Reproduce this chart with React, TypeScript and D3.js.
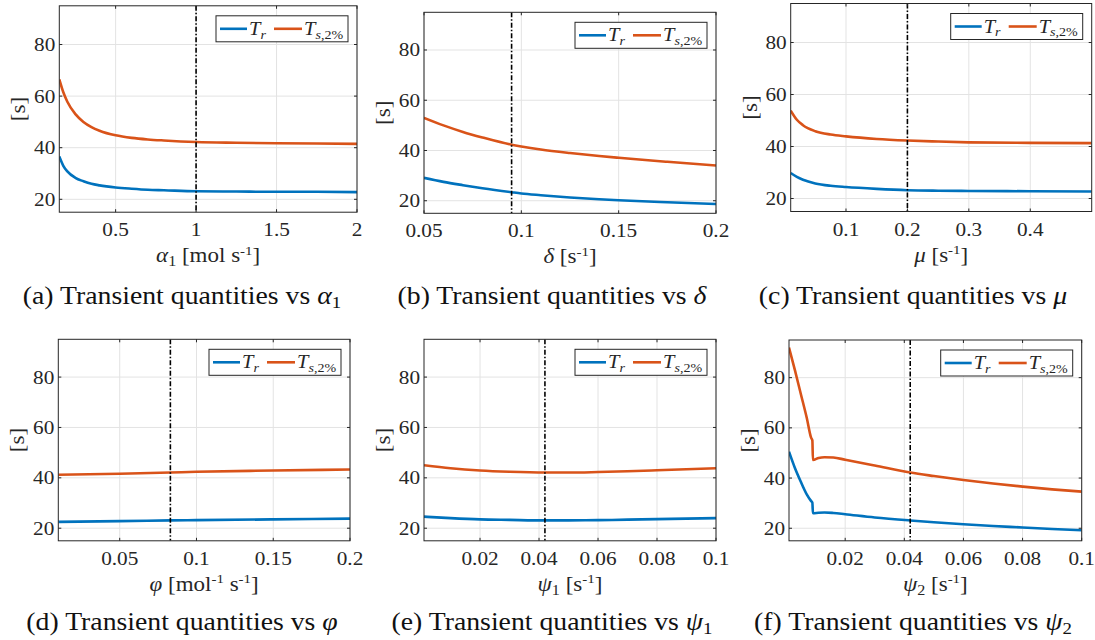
import React from 'react'
import * as d3 from 'd3'

// ---- data ----
const alphaX = [0.15, 0.175, 0.2, 0.25, 0.3, 0.35, 0.4, 0.5, 0.6, 0.7, 0.8, 1.0, 1.25, 1.5, 1.75, 2.0]
const alphaTs = [66.5, 61.5, 57.8, 53, 50, 48, 46.6, 44.8, 43.8, 43.2, 42.8, 42.2, 41.9, 41.7, 41.6, 41.5]
const alphaTr = [36.6, 33, 30.8, 28.3, 27, 26, 25.4, 24.6, 24.1, 23.7, 23.5, 23.1, 23.0, 22.9, 22.9, 22.8]

const deltaX = [0.05, 0.06, 0.07, 0.08, 0.095, 0.1, 0.11, 0.125, 0.14, 0.15, 0.175, 0.2]
const deltaTs = [53, 50, 47.4, 45.2, 42.3, 41.6, 40.4, 39, 37.8, 37.1, 35.5, 34]
const deltaTr = [29.1, 27.5, 26.2, 25.0, 23.4, 22.9, 22.2, 21.3, 20.6, 20.2, 19.4, 18.7]

const muX = [0.01, 0.02, 0.03, 0.05, 0.075, 0.1, 0.15, 0.2, 0.25, 0.3, 0.4, 0.5]
const muTs = [53.8, 50.3, 48.2, 45.9, 44.6, 43.9, 42.9, 42.3, 41.9, 41.6, 41.4, 41.3]
const muTr = [29.8, 28.3, 27.2, 25.8, 24.9, 24.4, 23.7, 23.2, 23.0, 22.9, 22.8, 22.7]

const phiX = [0.01, 0.05, 0.083, 0.1, 0.15, 0.2]
const phiTs = [41.2, 41.6, 42.1, 42.4, 42.9, 43.3]
const phiTr = [22.5, 22.8, 23.1, 23.2, 23.5, 23.8]

const psi1X = [0.001, 0.01, 0.02, 0.03, 0.042, 0.05, 0.06, 0.07, 0.08, 0.09, 0.1]
const psi1Ts = [45, 43.8, 42.9, 42.4, 42.1, 42.1, 42.3, 42.6, 43, 43.4, 43.8]
const psi1Tr = [24.6, 24.0, 23.5, 23.3, 23.1, 23.1, 23.2, 23.4, 23.6, 23.8, 24.0]

const psi2X = [0.001, 0.003, 0.005, 0.007, 0.0085, 0.0089, 0.0091, 0.011, 0.013, 0.016, 0.02, 0.03, 0.042, 0.05, 0.06, 0.07, 0.08, 0.09, 0.1]
const psi2Ts = [92, 83, 73.5, 64, 56, 55, 47.2, 48, 48.3, 48.2, 47.3, 45, 42.2, 40.8, 39.2, 37.8, 36.6, 35.5, 34.6]
const psi2Tr = [50.5, 44, 38.5, 33.5, 30.8, 30.2, 26, 26.2, 26.3, 26.1, 25.6, 24.3, 23.1, 22.4, 21.6, 20.9, 20.3, 19.7, 19.2]

const nominal = [1, 0.095, 0.2, 0.083, 0.042, 0.042]
const xDomains = [[0.15, 2], [0.05, 0.2], [0.01, 0.5], [0.01, 0.2], [0.001, 0.1], [0.001, 0.1]]
const xTicks = [[0.5, 1, 1.5, 2], [0.05, 0.1, 0.15, 0.2], [0.1, 0.2, 0.3, 0.4], [0.05, 0.1, 0.15, 0.2], [0.02, 0.04, 0.06, 0.08, 0.1], [0.02, 0.04, 0.06, 0.08, 0.1]]
const yTicks = [20, 40, 60, 80]
const yDomain = [15, 95]

const BLUE = '#0072BD'
const RED = '#D95319'
const FONT = "'Liberation Serif', 'Times New Roman', serif"

// panel boxes (layout)
const boxes = [
  { x0: 59.3, x1: 357, y0: 5.8, y1: 212.2, cap: 182, capY: 304 },
  { x0: 424, x1: 716, y0: 12.3, y1: 213.3, cap: 552, capY: 304 },
  { x0: 790.7, x1: 1091.7, y0: 3.5, y1: 211.5, cap: 913, capY: 304 },
  { x0: 58.3, x1: 350, y0: 339.3, y1: 540.8, cap: 182, capY: 630 },
  { x0: 424, x1: 716, y0: 339.3, y1: 540.8, cap: 552, capY: 630 },
  { x0: 789, x1: 1081.7, y0: 340, y1: 540.8, cap: 913, capY: 630 },
]

const series = [
  [alphaX, alphaTr, alphaTs],
  [deltaX, deltaTr, deltaTs],
  [muX, muTr, muTs],
  [phiX, phiTr, phiTs],
  [psi1X, psi1Tr, psi1Ts],
  [psi2X, psi2Tr, psi2Ts],
]

const sub = (t: string, size = 14) => <tspan baselineShift={-4} fontSize={size}>{t}</tspan>
const sup = (t: string) => <tspan baselineShift={7} fontSize={13}>{t}</tspan>
const it = (t: string) => <tspan fontStyle="italic">{t}</tspan>

const xLabels = [
  <>{it('α')}{sub('1')}{' [mol s'}{sup('-1')}{']'}</>,
  <>{it('δ')}{' [s'}{sup('-1')}{']'}</>,
  <>{it('μ')}{' [s'}{sup('-1')}{']'}</>,
  <>{it('φ')}{' [mol'}{sup('-1')}{' s'}{sup('-1')}{']'}</>,
  <>{it('ψ')}{sub('1')}{' [s'}{sup('-1')}{']'}</>,
  <>{it('ψ')}{sub('2')}{' [s'}{sup('-1')}{']'}</>,
]

const captions = [
  <>{'(a) Transient quantities vs '}{it('α')}{sub('1', 17)}</>,
  <>{'(b) Transient quantities vs '}{it('δ')}</>,
  <>{'(c) Transient quantities vs '}{it('μ')}</>,
  <>{'(d) Transient quantities vs '}{it('φ')}</>,
  <>{'(e) Transient quantities vs '}{it('ψ')}{sub('1', 17)}</>,
  <>{'(f) Transient quantities vs '}{it('ψ')}{sub('2', 17)}</>,
]

// text stretched horizontally to mimic the wide TeX font
function T({ x, y, sx = 1.18, size, anchor = 'middle', fill, children }: any) {
  return (
    <text transform={`translate(${x},${y}) scale(${sx},1)`} textAnchor={anchor} fontSize={size} fill={fill}>
      {children}
    </text>
  )
}

function Panel({ i }: { i: number }) {
  const b = boxes[i]
  const [xs, tr, ts] = series[i]
  const x = d3.scaleLinear().domain(xDomains[i]).range([b.x0, b.x1])
  const y = d3.scaleLinear().domain(yDomain).range([b.y1, b.y0])
  const line = d3.line<number>().x((_, k) => x(xs[k])).y(d => y(d)).curve(d3.curveMonotoneX)
  const lx = b.x1 - 9 - 132
  const ly = b.y0 + 10
  return (
    <g fontFamily={FONT} fill="#262626">
      <defs>
        <clipPath id={`clip${i}`}>
          <rect x={b.x0} y={b.y0} width={b.x1 - b.x0} height={b.y1 - b.y0} />
        </clipPath>
      </defs>
      <rect x={b.x0} y={b.y0} width={b.x1 - b.x0} height={b.y1 - b.y0} fill="white" />
      {xTicks[i].map(t => (
        <line key={'gx' + t} x1={x(t)} x2={x(t)} y1={b.y0} y2={b.y1} stroke="#e3e3e3" strokeWidth={1} />
      ))}
      {yTicks.map(t => (
        <line key={'gy' + t} x1={b.x0} x2={b.x1} y1={y(t)} y2={y(t)} stroke="#e3e3e3" strokeWidth={1} />
      ))}
      <g clipPath={`url(#clip${i})`}>
        <path d={line(tr) || ''} fill="none" stroke={BLUE} strokeWidth={2.6} />
        <path d={line(ts) || ''} fill="none" stroke={RED} strokeWidth={2.6} />
        <line x1={x(nominal[i])} x2={x(nominal[i])} y1={b.y0} y2={b.y1} stroke="black" strokeWidth={1.6} strokeDasharray="5,2,1.5,2" />
      </g>
      {xTicks[i].map(t => (
        <g key={'tx' + t}>
          <line x1={x(t)} x2={x(t)} y1={b.y1} y2={b.y1 - 3} stroke="#262626" />
          <line x1={x(t)} x2={x(t)} y1={b.y0} y2={b.y0 + 3} stroke="#262626" />
          <T x={x(t)} y={b.y1 + 24} size={18}>{String(t)}</T>
        </g>
      ))}
      {yTicks.map(t => (
        <g key={'ty' + t}>
          <line x1={b.x0} x2={b.x0 + 3} y1={y(t)} y2={y(t)} stroke="#262626" />
          <line x1={b.x1} x2={b.x1 - 3} y1={y(t)} y2={y(t)} stroke="#262626" />
          <T x={b.x0 - 4} y={y(t) + 6.5} size={18} anchor="end">{String(t)}</T>
        </g>
      ))}
      <rect x={b.x0} y={b.y0} width={b.x1 - b.x0} height={b.y1 - b.y0} fill="none" stroke="#262626" strokeWidth={1} />
      <text transform={`translate(${b.x0 - 34},${(b.y0 + b.y1) / 2}) rotate(-90) scale(1.15,1)`} textAnchor="middle" fontSize={20}>[s]</text>
      <T x={(b.x0 + b.x1) / 2} y={b.y1 + 50} size={20} sx={1.15}>{xLabels[i]}</T>
      <T x={b.cap} y={b.capY} size={25} sx={1.11} fill="#111">{captions[i]}</T>
      {/* legend */}
      <rect x={lx} y={ly} width={132} height={26} fill="white" stroke="#262626" strokeWidth={1} />
      <line x1={lx + 4} x2={lx + 31} y1={ly + 13} y2={ly + 13} stroke={BLUE} strokeWidth={2.6} />
      <T x={lx + 33} y={ly + 19} size={19} sx={1.08} anchor="start">{it('T')}<tspan baselineShift={-4} fontSize={13} fontStyle="italic">r</tspan></T>
      <line x1={lx + 58} x2={lx + 86} y1={ly + 13} y2={ly + 13} stroke={RED} strokeWidth={2.6} />
      <T x={lx + 88} y={ly + 19} size={19} sx={1.08} anchor="start">{it('T')}<tspan baselineShift={-4} fontSize={13}><tspan fontStyle="italic">s</tspan>,2%</tspan></T>
    </g>
  )
}

export default function App() {
  return (
    <svg width={1095} height={640} style={{ position: 'absolute', left: 0, top: 0, background: 'white' }}>
      <rect width={1095} height={640} fill="white" />
      {boxes.map((_, i) => <Panel key={i} i={i} />)}
    </svg>
  )
}
